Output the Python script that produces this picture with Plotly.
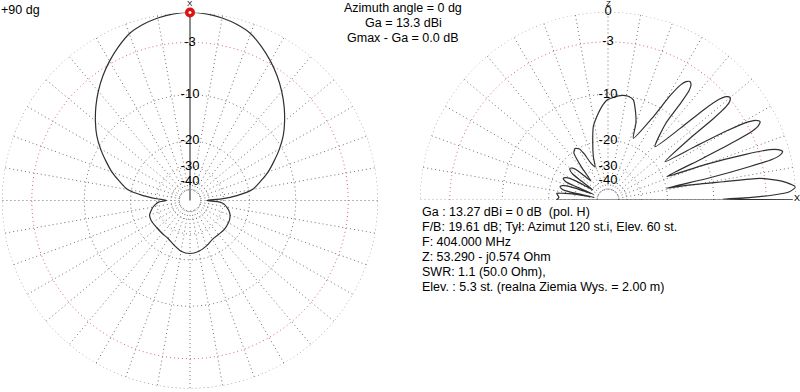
import numpy as np
import plotly.graph_objects as go

# ---------------- data ----------------
# Left: azimuth (horizontal) pattern, degrees clockwise from "X" (top), gain in dB rel. Gmax
az_deg = [0, 5, 10, 15, 20, 25, 30, 35, 40, 45, 50, 55, 60, 65, 70, 75, 80, 84, 87, 90,
          93, 96, 100, 105, 110, 115, 120, 130, 140, 150, 160, 170, 180,
          190, 200, 210, 220, 230, 240, 245, 250, 255, 260, 264, 267, 270,
          273, 276, 280, 285, 290, 295, 300, 305, 310, 315, 320, 325, 330, 335, 340, 345, 350, 355, 360]
az_db = [0.0, -0.06, -0.25, -0.55, -1.0, -1.8, -2.7, -3.7, -4.8, -6.0, -7.3, -8.7, -10.4, -12.3, -14.2, -16.5, -18.9, -24.0, -31.0, -42.0,
         -32.0, -29.5, -28.2, -26.7, -25.8, -25.3, -25.1, -24.9, -25.1, -24.9, -23.6, -22.5, -22.0,
         -22.5, -24.0, -25.3, -25.6, -25.7, -25.4, -25.4, -25.6, -26.7, -28.0, -29.5, -31.0, -36.0,
         -30.0, -24.0, -18.9, -16.5, -14.2, -12.3, -10.4, -8.7, -7.3, -6.0, -4.8, -3.7, -2.7, -1.8, -1.0, -0.55, -0.25, -0.06, 0.0]

# Right: elevation (vertical) pattern, degrees above the horizon, gain in dB rel. Gmax
el_deg = [0, 0.5, 1.0, 1.73, 2.6, 4.0, 6.0, 8.1, 9.0, 10.4, 11.3,
          12.27, 13.24, 13.91, 14.56, 15.5, 16.5, 17.29, 18.36, 20.03, 21.7,
          23.73, 24.78, 25.56, 26.3, 27.3, 28.34, 29.14, 30.12, 31.53, 33.9,
          36.89, 37.64, 38.32, 39.03, 40.1, 41.23, 42.12, 43.26, 44.81, 48.6,
          52.94, 53.09, 53.49, 54.17, 55.3, 56.59, 57.69, 59.23, 61.36, 67.7,
          70, 72.3, 75.8, 79, 83.4, 87, 90.7, 94, 97.7, 101.3, 104.3, 108.7, 111.3,
          115.06, 117.35, 119.05, 122.6, 125.95, 127.25, 128.9, 132,
          134.9, 136.4, 137.96, 140.2, 142.3, 143.6, 144.5, 146.3,
          149.1, 150.5, 152.1, 154.1, 155.9, 157.0, 157.3, 158.4,
          160.1, 161.1, 162.6, 164.5, 166.4, 167.7, 168.3, 169.3,
          170.3, 171.2, 172.0, 172.6, 174.5, 177, 180]
el_db = [-0.3, -8.5, -5.0, -2.2, -0.6, 0.0, -1.1, -3.5, -8.3, -14.1, -19.9,
         -10.4, -4.5, -1.8, -1.0, -0.64, -1.0, -1.8, -4.5, -10.4, -18.9,
         -10.5, -5.2, -2.75, -1.97, -1.64, -1.97, -2.75, -5.2, -10.5, -17.5,
         -10.75, -6.07, -3.87, -3.15, -2.86, -3.15, -3.87, -6.07, -10.75, -16.9,
         -11.8, -7.6, -5.56, -4.9, -4.63, -4.9, -5.56, -7.6, -11.8, -18.0,
         -14.5, -12.6, -10.4, -10.0, -10.1, -10.5, -11.0, -12.2, -14.0, -16.0, -19.3, -24.6, -28.9,
         -26.3, -22.3, -20.4, -19.5, -20.4, -22.3, -26.3, -34.7,
         -28.7, -25.15, -23.86, -23.2, -23.86, -25.15, -28.7, -40.5,
         -29.3, -25.3, -23.86, -23.1, -23.86, -25.3, -29.3, -43.0,
         -29.25, -25.3, -23.78, -23.1, -23.78, -25.3, -29.25, -45.0,
         -28.8, -25.3, -23.5, -22.4, -22.8, -23.3, -22.5]

ring_db = [0, -3, -10, -20, -30, -40, -50]
ring_labels_left = ["-3", "-10", "-20", "-30", "-40"]
ring_labels_right = ["0", "-3", "-10", "-20", "-30", "-40"]

header_lines = ["Azimuth angle = 0 dg", "Ga = 13.3 dBi", "Gmax - Ga = 0.0 dB"]
info_lines = ["Ga : 13.27 dBi = 0 dB  (pol. H)",
              "F/B: 19.61 dB; Tył: Azimut 120 st.i, Elev. 60 st.",
              "F: 404.000 MHz",
              "Z: 53.290 - j0.574 Ohm",
              "SWR: 1.1 (50.0 Ohm),",
              "Elev. : 5.3 st. (realna Ziemia Wys. = 2.00 m)"]
corner_label = "+90 dg"

# ---------------- helpers ----------------
W, H = 800, 392
FONT = "Liberation Sans, Arial, sans-serif"
GRID = "#6e6e6e"
RED = "#e06060"
DOT = "1px,3px"


def rad(db):
    return 10 ** (np.asarray(db, dtype=float) / 40.0)


def px(x):
    return x / W


def py(y):
    return 1 - y / H


fig = go.Figure()


def add_grid(sub, full):
    span = 360 if full else 180
    th = np.linspace(0, span, 361 if full else 181)
    for d in ring_db:
        fig.add_trace(go.Scatterpolar(r=np.full(th.shape, rad(d)), theta=th, mode="lines",
                                      line=dict(color=RED if d == -3 else GRID, width=1, dash=DOT),
                                      hoverinfo="skip", subplot=sub))
    angs = np.arange(0, 360 if full else 181, 10)
    rr, tt = [], []
    for a in angs:
        rr += [float(rad(-50)), 1.0, None]
        tt += [float(a), float(a), None]
    fig.add_trace(go.Scatterpolar(r=rr, theta=tt, mode="lines", connectgaps=False,
                                  line=dict(color=GRID, width=1, dash=DOT),
                                  hoverinfo="skip", subplot=sub))


# ---- left plot ----
add_grid("polar", True)
fig.add_trace(go.Scatterpolar(r=[0, 1], theta=[0, 0], mode="lines",
                              line=dict(color="#8c8c8c", width=2), subplot="polar"))
fig.add_trace(go.Scatterpolar(r=rad(az_db), theta=az_deg, mode="lines",
                              line=dict(color="#303030", width=1.2, shape="spline", smoothing=0.8),
                              subplot="polar"))
fig.add_trace(go.Scatterpolar(r=rad([-3, -10, -20, -30, -40]), theta=[0] * 5, mode="text",
                              text=ring_labels_left, textposition="middle center",
                              textfont=dict(family=FONT, size=13, color="black"),
                              cliponaxis=False, subplot="polar"))
fig.add_trace(go.Scatterpolar(r=[rad(az_db[0])], theta=[az_deg[0]], mode="markers",
                              marker=dict(color="#e01010", size=10, line=dict(width=0)),
                              cliponaxis=False, subplot="polar"))
fig.add_trace(go.Scatterpolar(r=[rad(az_db[0])], theta=[az_deg[0]], mode="markers",
                              marker=dict(color="white", size=3, line=dict(width=0)),
                              cliponaxis=False, subplot="polar"))

# ---- right plot ----
add_grid("polar2", False)
fig.add_trace(go.Scatterpolar(r=rad(el_db), theta=el_deg, mode="lines",
                              line=dict(color="#303030", width=1.2, shape="spline", smoothing=0.6),
                              subplot="polar2"))
fig.add_trace(go.Scatterpolar(r=rad([el_db[-1], el_db[0]]), theta=[el_deg[-1], el_deg[0]], mode="lines",
                              line=dict(color="#303030", width=1.2), subplot="polar2"))
fig.add_trace(go.Scatterpolar(r=rad([0, -3, -10, -20, -30, -40]), theta=[90] * 6, mode="text",
                              text=ring_labels_right, textposition="middle center",
                              textfont=dict(family=FONT, size=13, color="black"),
                              cliponaxis=False, subplot="polar2"))

hidden_r = dict(visible=False, range=[0, 1], showgrid=False, showline=False, showticklabels=False, ticks="")
hidden_a = dict(visible=False, showgrid=False, showline=False, showticklabels=False, ticks="")

ann = []
for i, t in enumerate(header_lines):
    ann.append(dict(x=px(403), y=py(8 + 15 * i), text=t, xanchor="center", yanchor="middle"))
for i, t in enumerate(info_lines):
    ann.append(dict(x=px(420), y=py(212 + 15 * i), text=t, xanchor="left", yanchor="middle"))
ann.append(dict(x=px(-1), y=py(10), text=corner_label, xanchor="left", yanchor="middle"))
ann.append(dict(x=px(190), y=py(3.5), text="X", xanchor="center", yanchor="middle", font=dict(size=8)))
ann.append(dict(x=px(608), y=py(3.5), text="Z", xanchor="center", yanchor="middle", font=dict(size=8)))
ann.append(dict(x=px(797), y=py(198), text="X", xanchor="center", yanchor="middle", font=dict(size=9)))
for a in ann:
    a.update(xref="paper", yref="paper", showarrow=False)
    f = dict(family=FONT, size=12.5, color="black")
    f.update(a.get("font", {}))
    a["font"] = f

fig.update_layout(
    width=W, height=H, margin=dict(l=0, r=0, t=0, b=0),
    paper_bgcolor="white", plot_bgcolor="white", showlegend=False,
    polar=dict(domain=dict(x=[px(2), px(378)], y=[py(389), py(12)]),
               bgcolor="white", radialaxis=hidden_r,
               angularaxis=dict(hidden_a, rotation=90, direction="clockwise")),
    polar2=dict(domain=dict(x=[px(420), px(796)], y=[py(200), py(12)]),
                bgcolor="white", sector=[0, 180], radialaxis=hidden_r,
                angularaxis=dict(hidden_a, rotation=0, direction="counterclockwise")),
    annotations=ann,
)

fig.write_html("out.html", config={"displayModeBar": False},
               post_script="document.body.style.margin='0';document.body.style.padding='0';")
